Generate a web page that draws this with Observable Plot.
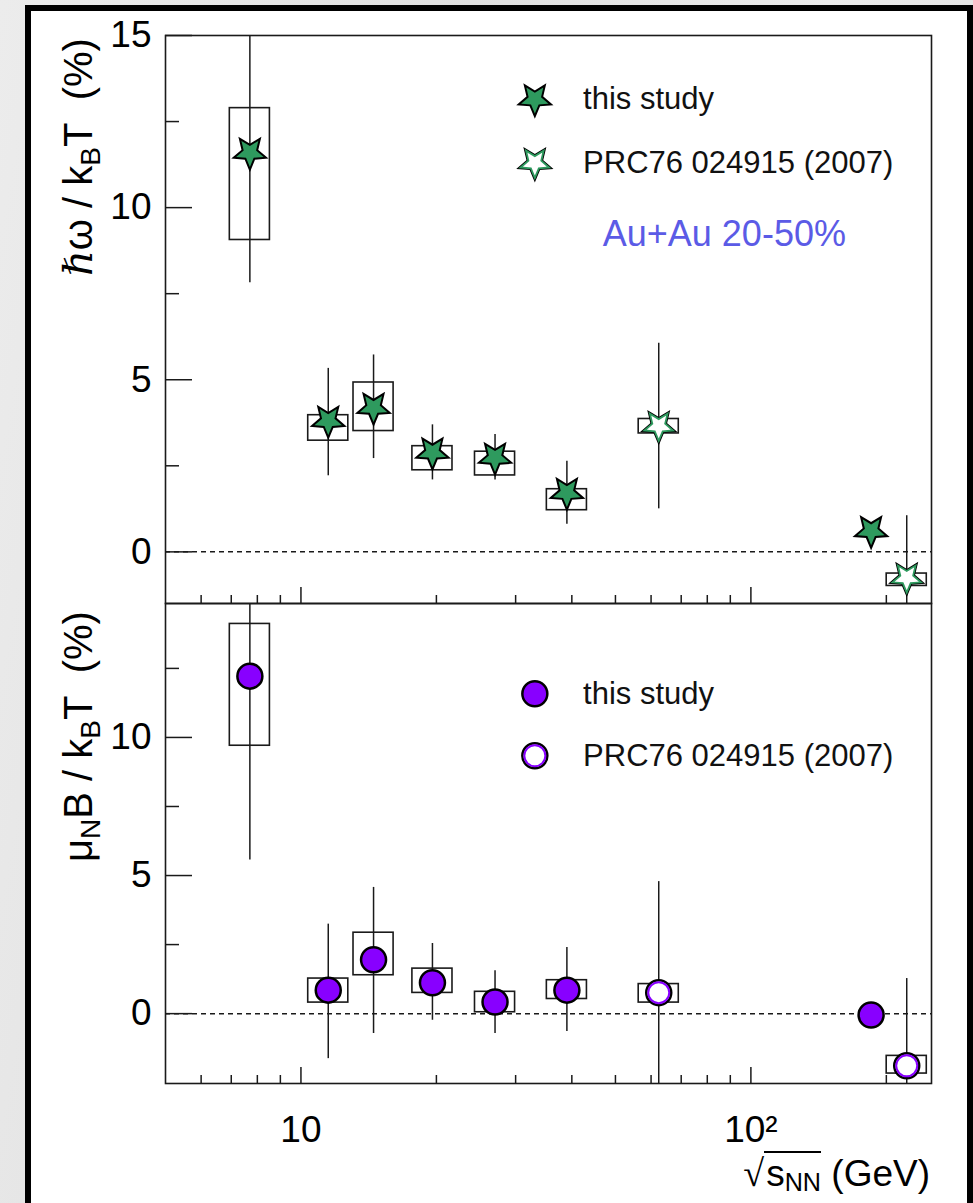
<!DOCTYPE html>
<html><head><meta charset="utf-8">
<script src="https://cdn.jsdelivr.net/npm/d3@7"></script>
<script src="https://cdn.jsdelivr.net/npm/@observablehq/plot@0.6"></script>
<style>
html,body{margin:0;padding:0}
body{width:973px;height:1203px;overflow:hidden;position:relative;background:linear-gradient(100deg,#ececec,#e0e0e0 40%,#ebebeb 70%,#dedede);font-family:"Liberation Sans",Arial,sans-serif;color:#000}
#frame{position:absolute;left:25px;top:5px;width:948px;height:1230px;background:#fff;border:6px solid #000;box-sizing:border-box}
#top,#bot{position:absolute;left:0}
#top{top:0}
#bot{top:603px}
.ytitle{position:absolute;transform-origin:0 0;transform:rotate(-90deg);white-space:nowrap;font-size:40px;line-height:40px}
.ytitle sub{font-size:0.7em;vertical-align:-0.3em;line-height:0}
#xtitle{position:absolute;right:43px;top:1154px;font-size:37px;white-space:nowrap;line-height:38px}
#xtitle sub{font-size:0.68em;vertical-align:-0.2em;line-height:0}
#xtitle .rad{border-top:2px solid #000;padding-left:2px}
#xtitle .sq{font-family:"DejaVu Sans";font-size:38px;font-weight:100}
</style></head><body>
<div id="frame"></div>
<div id="top"></div>
<div id="bot"></div>
<div class="ytitle" style="left:58px;top:276px"><span style="font-family:'DejaVu Serif';font-style:italic">ℏ</span>ω / k<sub>B</sub>T&nbsp; (%)</div>
<div class="ytitle" style="left:58px;top:862px">μ<sub>N</sub>B / k<sub>B</sub>T&nbsp; (%)</div>
<div id="xtitle"><span class="sq">√</span><span class="rad">s<sub>NN</sub></span> (GeV)</div>
<script>
// ---- data ----
const studyEnergy = [7.7, 11.5, 14.5, 19.6, 27, 39, 200];
const prcEnergy = [62.4, 200];

// hbar*omega / kB T (%), this study
const omegaVal    = [11.60, 3.81, 4.19, 2.89, 2.74, 1.72, 0.61];
const omegaStatLo = [7.82, 2.21, 2.71, 2.09, 2.09, 0.80, null];
const omegaStatHi = [15.40, 5.33, 5.72, 3.69, 3.41, 2.63, null];
const omegaSysLo  = [9.06, 3.23, 3.51, 2.37, 2.22, 1.21, null];
const omegaSysHi  = [12.89, 3.97, 4.92, 3.07, 2.91, 1.82, null];
// PRC76 024915 (2007)
const omegaPrcVal    = [3.66, -0.75];
const omegaPrcStatLo = [1.25, -2.55];
const omegaPrcStatHi = [6.06, 1.05];
const omegaPrcSysLo  = [3.44, -0.99];
const omegaPrcSysHi  = [3.86, -0.63];

// mu_N B / kB T (%), this study
const magVal    = [12.22, 0.85, 1.95, 1.12, 0.42, 0.85, -0.05];
const magStatLo = [5.56, -1.63, -0.72, -0.24, -0.72, -0.65, null];
const magStatHi = [18.90, 3.24, 4.57, 2.54, 1.55, 2.39, null];
const magSysLo  = [9.70, 0.40, 1.39, 0.75, 0.05, 0.53, null];
const magSysHi  = [14.11, 1.27, 2.93, 1.63, 0.79, 1.21, null];
// PRC76
const magPrcVal    = [0.76, -1.89];
const magPrcStatLo = [-3.26, -5.05];
const magPrcStatHi = [4.78, 1.27];
const magPrcSysLo  = [0.40, -2.17];
const magPrcSysHi  = [1.07, -1.53];

// display shifts for the overlapping 200 GeV points (as drawn in the original)
const shift200Study = 0.925;
const shift200Prc = 1.11;

const xMinorTicks = [6, 7, 8, 9, 20, 30, 40, 50, 60, 70, 80, 90, 200];
const xMajorTicks = [10, 100];
const xTickLabels = ["10", "10²"];
const legendLabels = ["this study", "PRC76 024915 (2007)"];
const systemLabel = "Au+Au 20-50%";

// ---- helpers ----
const boxF = 1.108;
const GREEN = "#2e9a5e", PURPLE = "#8800ff", INK = "#1a1a1a";
const starDown = {
  draw(ctx, size) {
    const R = Math.sqrt(size / Math.PI), r = R * 0.45;
    for (let i = 0; i < 10; i++) {
      const a = Math.PI / 2 + i * Math.PI / 5;
      const rad = i % 2 ? r : R;
      const px = rad * Math.cos(a), py = rad * Math.sin(a);
      if (i) ctx.lineTo(px, py); else ctx.moveTo(px, py);
    }
    ctx.closePath();
  }
};

function rows(energy, val, sLo, sHi, yLo, yHi, shift) {
  return energy.map((e, i) => ({
    x: e === 200 ? e * shift : e,
    y: val[i], statLo: sLo[i], statHi: sHi[i], sysLo: yLo[i], sysHi: yHi[i]
  }));
}

const common = {
  width: 973, marginLeft: 165, marginRight: 42,
  x: {type: "log", domain: [5, 252]},
  style: {background: "transparent", fontFamily: "Liberation Sans, Arial, sans-serif", overflow: "visible", color: "#000"}
};

function panelMarks(study, prc, yMajor, yMinor, starMode) {
  const withSys = d => d.sysLo != null;
  const withStat = d => d.statLo != null;
  const all = study.concat(prc);
  const marks = [
    Plot.ruleY([0], {stroke: INK, strokeWidth: 1.5, strokeDasharray: "5,4"}),
    Plot.rect(all.filter(withSys), {x1: d => d.x / boxF, x2: d => d.x * boxF, y1: "sysLo", y2: "sysHi", fill: "none", stroke: INK, strokeWidth: 1.6}),
    Plot.ruleX(all.filter(withStat), {x: "x", y1: "statLo", y2: "statHi", stroke: INK, strokeWidth: 1.5, clip: true}),
    Plot.axisX({ticks: xMinorTicks, tickSize: -8, tickFormat: () => "", stroke: INK, strokeWidth: 1.5, label: null}),
    Plot.axisX({ticks: xMajorTicks, tickSize: -16, tickFormat: () => "", stroke: INK, strokeWidth: 1.5, label: null}),
    Plot.axisY({ticks: yMinor, tickSize: -14, tickFormat: () => "", stroke: INK, strokeWidth: 1.5, label: null}),
    Plot.axisY({ticks: yMajor, tickSize: -27, tickFormat: () => "", stroke: INK, strokeWidth: 1.5, label: null}),
    Plot.axisY({ticks: yMajor, tickSize: 0, tickPadding: 14, fontSize: 37, label: null, tickFormat: d => String(d)}),
    Plot.frame({stroke: INK, strokeWidth: 1.6})
  ];
  if (starMode) {
    marks.push(
      Plot.dot(study, {x: "x", y: "y", r: 17, symbol: starDown, fill: GREEN, stroke: "#000", strokeWidth: 2}),
      Plot.dot(prc, {x: "x", y: "y", r: 17, symbol: starDown, fill: "#fff", stroke: "#000", strokeWidth: 2}),
      Plot.dot(prc, {x: "x", y: "y", r: 15, symbol: starDown, fill: "#fff", stroke: GREEN, strokeWidth: 1.8})
    );
  } else {
    marks.push(
      Plot.dot(study, {x: "x", y: "y", r: 12.5, fill: PURPLE, stroke: "#000", strokeWidth: 2.5}),
      Plot.dot(prc, {x: "x", y: "y", r: 12.5, fill: "#fff", stroke: "#000", strokeWidth: 2.5}),
      Plot.dot(prc, {x: "x", y: "y", r: 10.5, fill: "#fff", stroke: PURPLE, strokeWidth: 2})
    );
  }
  return marks;
}

// ---- top panel ----
const omegaStudy = rows(studyEnergy, omegaVal, omegaStatLo, omegaStatHi, omegaSysLo, omegaSysHi, shift200Study);
const omegaPrc = rows(prcEnergy, omegaPrcVal, omegaPrcStatLo, omegaPrcStatHi, omegaPrcSysLo, omegaPrcSysHi, shift200Prc);
const legTop = [{x: 33.1, y: 13.15, label: legendLabels[0]}, {x: 33.1, y: 11.30, label: legendLabels[1]}];

const topPlot = Plot.plot({
  ...common,
  height: 603, marginTop: 35, marginBottom: 0,
  y: {domain: [-1.5, 15]},
  marks: [
    ...panelMarks(omegaStudy, omegaPrc, [0, 5, 10, 15], [2.5, 7.5, 12.5], true),
    Plot.dot(legTop.slice(0, 1), {x: "x", y: "y", r: 17, symbol: starDown, fill: GREEN, stroke: "#000", strokeWidth: 2}),
    Plot.dot(legTop.slice(1), {x: "x", y: "y", r: 17, symbol: starDown, fill: "#fff", stroke: "#000", strokeWidth: 2}),
    Plot.dot(legTop.slice(1), {x: "x", y: "y", r: 15, symbol: starDown, fill: "#fff", stroke: GREEN, strokeWidth: 1.8}),
    Plot.text(legTop, {x: d => d.x * 1.28, y: "y", text: "label", textAnchor: "start", fontSize: 31, fill: "#111"}),
    Plot.text([{x: 87.3, y: 9.23}], {x: "x", y: "y", text: () => systemLabel, fontSize: 36, fill: "#5b5be6"})
  ]
});
document.getElementById("top").append(topPlot);

// ---- bottom panel ----
const magStudy = rows(studyEnergy, magVal, magStatLo, magStatHi, magSysLo, magSysHi, shift200Study);
const magPrc = rows(prcEnergy, magPrcVal, magPrcStatLo, magPrcStatHi, magPrcSysLo, magPrcSysHi, shift200Prc);
const legBot = [{x: 33.1, y: 11.58, label: legendLabels[0]}, {x: 33.1, y: 9.34, label: legendLabels[1]}];

const botPlot = Plot.plot({
  ...common,
  height: 600, marginTop: 0, marginBottom: 120,
  y: {domain: [-2.53, 14.85]},
  marks: [
    ...panelMarks(magStudy, magPrc, [0, 5, 10], [2.5, 7.5, 12.5], false),
    Plot.axisX({ticks: xMajorTicks, tickSize: 0, tickPadding: 32, fontSize: 37, label: null,
      tickFormat: d => xTickLabels[xMajorTicks.indexOf(d)]}),
    Plot.dot(legBot.slice(0, 1), {x: "x", y: "y", r: 12.5, fill: PURPLE, stroke: "#000", strokeWidth: 2.5}),
    Plot.dot(legBot.slice(1), {x: "x", y: "y", r: 12.5, fill: "#fff", stroke: "#000", strokeWidth: 2.5}),
    Plot.dot(legBot.slice(1), {x: "x", y: "y", r: 10.5, fill: "#fff", stroke: PURPLE, strokeWidth: 2}),
    Plot.text(legBot, {x: d => d.x * 1.28, y: "y", text: "label", textAnchor: "start", fontSize: 31, fill: "#111"})
  ]
});
document.getElementById("bot").append(botPlot);
</script>
</body></html>
